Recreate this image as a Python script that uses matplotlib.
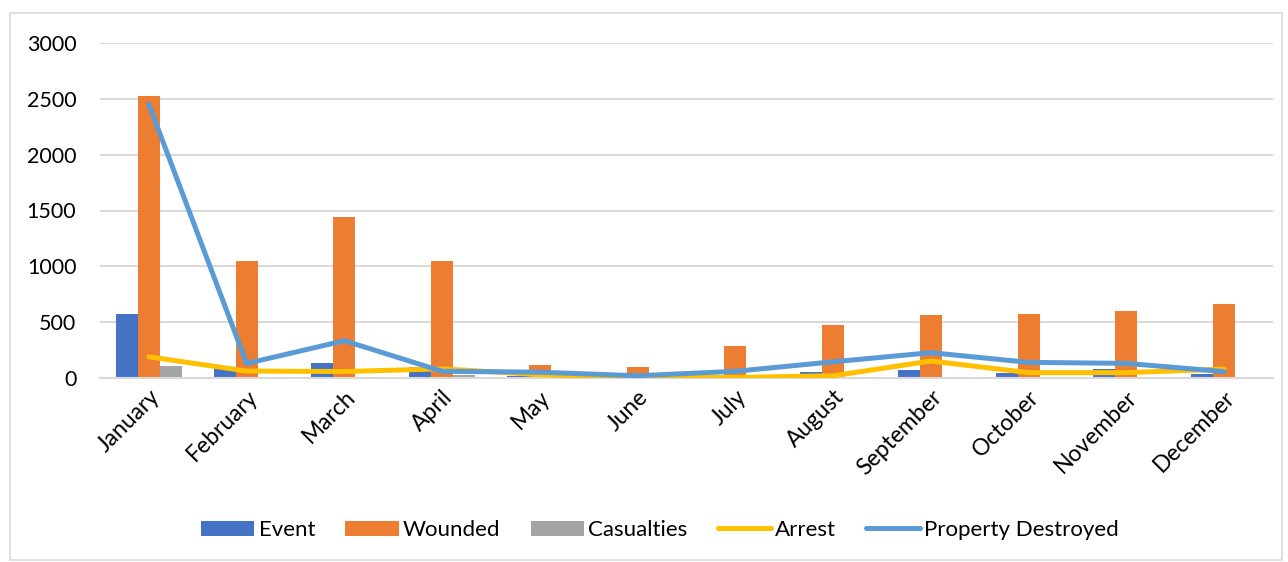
import matplotlib
matplotlib.use("Agg")
import matplotlib.pyplot as plt
from matplotlib.patches import Rectangle
import numpy as np

plt.rcParams['font.family'] = ['Lato', 'DejaVu Sans']

months = ["January", "February", "March", "April", "May", "June", "July",
          "August", "September", "October", "November", "December"]
event = [570, 90, 135, 100, 20, 5, 10, 55, 70, 42, 80, 36]
wounded = [2525, 1045, 1440, 1045, 120, 95, 287, 478, 565, 575, 598, 663]
casualties = [110, 4, 10, 25, 15, 3, 5, 10, 5, 5, 12, 10]
arrest = [190, 62, 58, 82, 30, 5, 5, 20, 152, 48, 48, 80]
property_destroyed = [2450, 130, 334, 60, 52, 20, 60, 145, 227, 140, 131, 57]

c_event = "#4472c4"
c_wounded = "#ed7d31"
c_cas = "#a5a5a5"
c_arrest = "#ffc000"
c_prop = "#5b9bd5"

W, H = 1288, 562
fig = plt.figure(figsize=(W / 100, H / 100), dpi=100)
fig.patches.append(Rectangle((10 / W, 2 / H), 1272 / W, (H - 15) / H,
                             transform=fig.transFigure, fill=False,
                             edgecolor="#d9d9d9", linewidth=1.2))

ax = fig.add_axes([100 / W, (H - 378) / H, 1173 / W, 335 / H])
x = np.arange(len(months))
bw = 0.225
ax.bar(x - bw, event, bw, color=c_event, label="Event", zorder=2)
ax.bar(x, wounded, bw, color=c_wounded, label="Wounded", zorder=2)
ax.bar(x + bw, casualties, bw, color=c_cas, label="Casualties", zorder=2)
ax.plot(x, arrest, color=c_arrest, lw=3.6, solid_capstyle="round",
        solid_joinstyle="round", label="Arrest", zorder=3)
ax.plot(x, property_destroyed, color=c_prop, lw=3.6, solid_capstyle="round",
        solid_joinstyle="round", label="Property Destroyed", zorder=4)

ax.set_xlim(-0.5, len(months) - 0.5)
ax.set_ylim(0, 3000)
ax.set_yticks(range(0, 3001, 500))
ax.yaxis.grid(True, color="#d9d9d9", linewidth=1.5, zorder=0)
ax.set_axisbelow(True)
for s in ["top", "right", "left"]:
    ax.spines[s].set_visible(False)
ax.spines["bottom"].set_color("#d9d9d9")
ax.spines["bottom"].set_linewidth(1.5)
ax.tick_params(axis="both", length=0, colors="black")
ax.tick_params(axis="y", pad=17, labelsize=15.5)
ax.set_xticks(x)
ax.set_xticklabels(months, rotation=45, ha="right", rotation_mode="anchor")
ax.tick_params(axis="x", pad=6, labelsize=16.5)

handles, labels = ax.get_legend_handles_labels()
order = [2, 3, 4, 0, 1]
fig.legend([handles[i] for i in order], [labels[i] for i in order],
           loc="center", bbox_to_anchor=(660 / W, (H - 530) / H), ncol=5,
           frameon=False, fontsize=16, handlelength=2.4, handleheight=0.65,
           columnspacing=1.35, handletextpad=0.2)

fig.savefig("out.png", dpi=100)
